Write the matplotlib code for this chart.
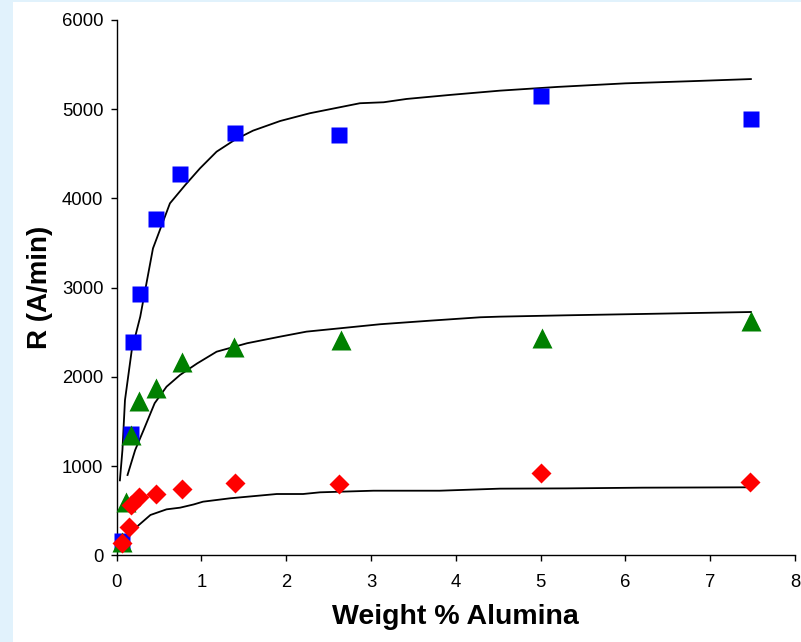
import matplotlib
matplotlib.use('Agg')
import matplotlib.pyplot as plt
from matplotlib.patches import Rectangle

plt.rcParams['font.family'] = ['Liberation Sans', 'DejaVu Sans']

# measured points
blue_x = [0.06, 0.17, 0.20, 0.28, 0.47, 0.75, 1.40, 2.62, 5.00, 7.48]
blue_y = [160, 1360, 2390, 2930, 3770, 4275, 4735, 4710, 5150, 4890]
green_x = [0.06, 0.11, 0.17, 0.27, 0.46, 0.77, 1.39, 2.65, 5.02, 7.48]
green_y = [150, 600, 1350, 1730, 1875, 2170, 2330, 2415, 2435, 2625]
red_x = [0.06, 0.15, 0.17, 0.27, 0.47, 0.77, 1.40, 2.62, 5.00, 7.47]
red_y = [140, 320, 565, 655, 685, 745, 805, 800, 925, 820]

# fitted curves
blue_fit_x = [0.04, 0.07, 0.10, 0.18, 0.28, 0.43, 0.63, 0.81, 0.985, 1.18, 1.40, 1.61, 1.93,
              2.28, 2.87, 3.15, 3.42, 3.93, 4.52, 5.2, 6.0, 6.8, 7.48]
blue_fit_y = [840, 1180, 1740, 2300, 2675, 3440, 3945, 4150, 4338, 4524, 4660, 4760, 4868,
              4955, 5067, 5078, 5115, 5160, 5208, 5250, 5290, 5315, 5338]
green_fit_x = [0.13, 0.22, 0.32, 0.45, 0.59, 0.75, 0.95, 1.18, 1.54, 1.93, 2.24, 2.64, 3.11,
               3.70, 4.29, 4.52, 5.3, 6.2, 7.48]
green_fit_y = [900, 1180, 1405, 1705, 1890, 2022, 2150, 2282, 2377, 2451, 2507, 2545, 2590,
               2630, 2668, 2675, 2690, 2705, 2727]
red_fit_x = [0.14, 0.24, 0.40, 0.59, 0.75, 0.91, 1.02, 1.34, 1.89, 2.20, 2.40, 3.03, 3.81,
             4.52, 5.3, 6.2, 7.45]
red_fit_y = [230, 320, 452, 515, 534, 570, 601, 639, 687, 687, 706, 724, 724,
             747, 750, 758, 762]

fig = plt.figure(figsize=(8.01, 6.42), dpi=100)
fig.patch.set_facecolor('#E1F2FC')
# white panel behind the chart
bg = fig.add_axes([13 / 801, 0, 1 - 13 / 801, 1 - 2 / 642], zorder=-1)
bg.set_axis_off()
bg.add_patch(Rectangle((0, 0), 1, 1, transform=bg.transAxes, facecolor='white', edgecolor='none'))

ax = fig.add_axes([116.5 / 801, 1 - 555.3 / 642, 678.5 / 801, 535.3 / 642])
ax.set_facecolor('none')

for fx, fy in [(blue_fit_x, blue_fit_y), (green_fit_x, green_fit_y), (red_fit_x, red_fit_y)]:
    ax.plot(fx, fy, color='black', lw=1.3, zorder=2, solid_joinstyle='round')

ax.plot(blue_x, blue_y, ls='none', marker='s', ms=12, color='#0000FF', mec='none', zorder=3, clip_on=False)
ax.plot(green_x, green_y, ls='none', marker='^', ms=14, color='#008000', mec='none', zorder=3, clip_on=False)
ax.plot(red_x, red_y, ls='none', marker='D', ms=10, color='#FF0000', mec='none', zorder=4, clip_on=False)

ax.set_xlim(0, 8)
ax.set_ylim(0, 6000)
ax.set_xticks(range(0, 9))
ax.set_yticks(range(0, 7000, 1000))
for s in ['top', 'right']:
    ax.spines[s].set_visible(False)
for s in ['left', 'bottom']:
    ax.spines[s].set_linewidth(1.0)
ax.tick_params(direction='out', length=4.5, width=1.0, labelsize=13.3)
ax.tick_params(axis='y', pad=5)
ax.tick_params(axis='x', pad=9)

ax.set_xlabel('Weight % Alumina', fontsize=20.5, fontweight='bold', labelpad=9)
ax.set_ylabel('R (A/min)', fontsize=20, fontweight='bold', labelpad=6)

fig.savefig('out.png', dpi=100, facecolor=fig.get_facecolor())
